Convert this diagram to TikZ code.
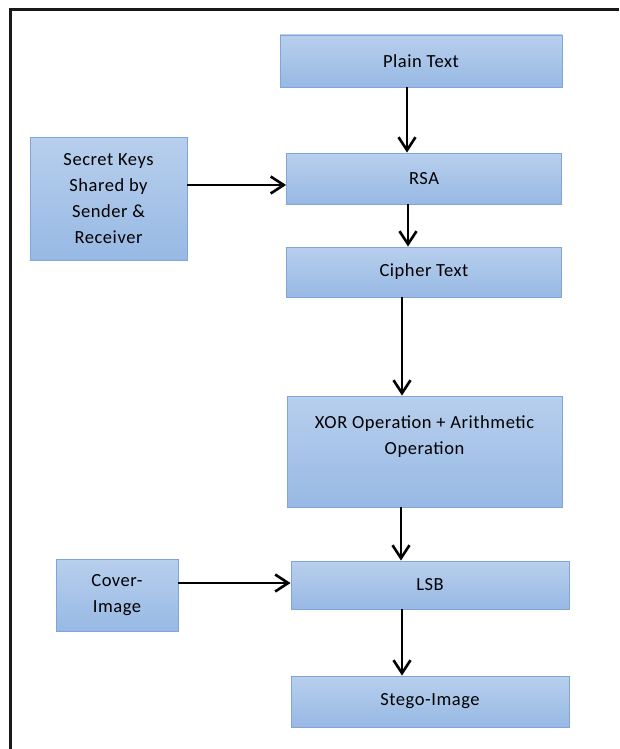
\documentclass[tikz,border=0pt]{standalone}
\usepackage{fontspec}
\setmainfont{Carlito}[LetterSpace=3]
\usetikzlibrary{arrows.meta}

\definecolor{boxtop}{RGB}{184,207,237}
\definecolor{boxbot}{RGB}{151,185,228}
\definecolor{boxline}{RGB}{128,165,216}

\tikzset{
  flowbox/.style={draw=boxline, line width=0.9pt, top color=boxtop, bottom color=boxbot,
    shading angle=0, inner sep=2pt, align=center, font=\fontsize{18.5}{26}\selectfont},
  flowarrow/.style={draw=black, line width=2.6pt,
    -{Straight Barb[length=13pt, width=17pt]}},
  frameline/.style={draw=black!90, line width=3pt}
}

\begin{document}
\begin{tikzpicture}[x=1pt, y=-1pt]
  \useasboundingbox (0,0) rectangle (619,749);
  \fill[white] (0,0) rectangle (619,749);

  % outer frame (top and left edges)
  \draw[frameline] (10,749) -- (10,10) -- (619,10);

  % process boxes
  \node[flowbox, minimum width=282pt, minimum height=52pt] (plain) at (421,61) {Plain Text};
  \node[flowbox, minimum width=275pt, minimum height=51pt] (rsa) at (424,178.5) {RSA};
  \node[flowbox, minimum width=157pt, minimum height=123pt] (keys) at (108.5,198.5)
    {Secret Keys\\Shared by\\Sender \&\\Receiver};
  \node[flowbox, minimum width=275pt, minimum height=50pt] (cipher) at (424,272) {Cipher Text};
  \node[flowbox, minimum width=275pt, minimum height=111pt] (xor) at (424.5,451.5)
    {XOR Operation + Arithmetic\\Operation\\[6pt]};
  \node[flowbox, minimum width=278pt, minimum height=48pt] (lsb) at (430,585) {LSB};
  \node[flowbox, minimum width=122pt, minimum height=72pt] (cover) at (117,595) {Cover-\\Image};
  \node[flowbox, minimum width=278pt, minimum height=51pt] (stego) at (430,701.5) {Stego-Image};

  % x positions of the vertical connectors, y positions of the horizontal ones
  \coordinate (v1) at (407,0);
  \coordinate (v2) at (408,0);
  \coordinate (v3) at (402,0);
  \coordinate (v4) at (401,0);
  \coordinate (v5) at (402,0);
  \coordinate (h1) at (0,185);
  \coordinate (h2) at (0,583);

  % connectors
  \draw[flowarrow] (plain.south -| v1) -- (rsa.north -| v1);
  \draw[flowarrow] (rsa.south -| v2) -- (cipher.north -| v2);
  \draw[flowarrow] (cipher.south -| v3) -- (xor.north -| v3);
  \draw[flowarrow] (xor.south -| v4) -- (lsb.north -| v4);
  \draw[flowarrow] (lsb.south -| v5) -- (stego.north -| v5);
  \draw[flowarrow] (keys.east |- h1) -- (rsa.west |- h1);
  \draw[flowarrow] (cover.east |- h2) -- (lsb.west |- h2);
\end{tikzpicture}
\end{document}
